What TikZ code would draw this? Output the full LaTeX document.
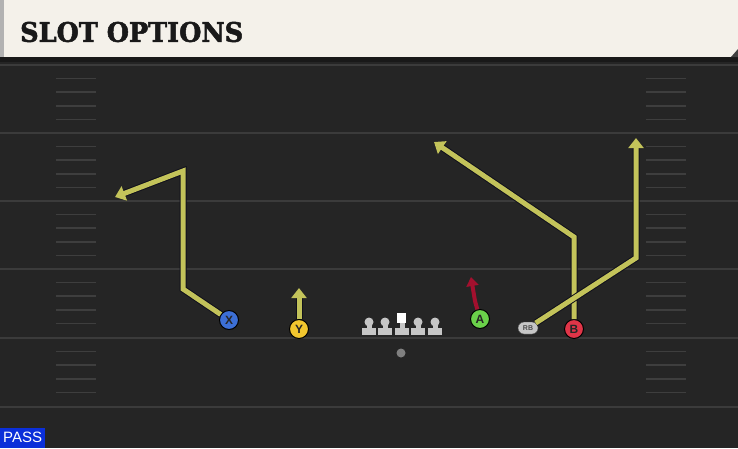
\documentclass[tikz,border=0pt]{standalone}
\usepackage{fontspec}
\usepackage{graphicx}
\setmainfont{Liberation Sans}
\newfontfamily\titlefont{DejaVu Serif}[BoldFeatures={FakeBold=2}]
\usetikzlibrary{arrows.meta,shapes.misc}

\definecolor{fieldbg}{HTML}{252525}
\definecolor{yardgray}{HTML}{3B3B3B}
\definecolor{hashgray}{HTML}{3E3E3E}
\definecolor{headcream}{HTML}{F4F1EA}
\definecolor{routeyellow}{HTML}{C3C35A}
\definecolor{routeedge}{HTML}{10101C}
\definecolor{hotred}{HTML}{A3102E}
\definecolor{xblue}{HTML}{3C6FD6}
\definecolor{yyellow}{HTML}{F2C62E}
\definecolor{agreen}{HTML}{6AD14A}
\definecolor{bred}{HTML}{E03548}
\definecolor{olgray}{HTML}{C6C6C6}
\definecolor{passblue}{HTML}{0B2FD9}

\tikzstyle{yardline} = [draw=yardgray, line width=2pt]
\tikzstyle{hash} = [draw=hashgray, line width=1.5pt]
\tikzstyle{route} = [draw=routeyellow, line width=5pt, -{Triangle[width=15pt,length=10pt]}, preaction={draw=routeedge, line width=7pt}]
\tikzstyle{hotroute} = [draw=hotred, line width=4pt, -{Triangle[width=12pt,length=9pt]}]
\tikzstyle{player} = [circle, draw=black, line width=1pt, minimum size=19pt, inner sep=0pt, text=black!85, font=\bfseries\fontsize{12}{12}\selectfont]
\tikzstyle{rbbox} = [rounded rectangle, draw=black!70, fill=olgray, minimum width=20pt, minimum height=12pt, inner sep=0pt, text=black!70, font=\bfseries\fontsize{7}{7}\selectfont]
\tikzstyle{ball} = [circle, fill=black!50, minimum size=9pt, inner sep=0pt]

\begin{document}
\begin{tikzpicture}[x=1pt, y=-1pt]
        \useasboundingbox (0,0) rectangle (738,448);
        % field
        \fill[fieldbg] (0,0) rectangle (738,448);
        \foreach \b in {65,133,201,269,338,407}
            \path[yardline] (0,\b) -- (738,\b);
        \foreach \b in {65,133,201,269,338}
            \foreach \k in {1,...,4} {
                \path[hash] (56,{\b+13.6*\k}) -- (96,{\b+13.6*\k});
                \path[hash] (646,{\b+13.6*\k}) -- (686,{\b+13.6*\k});
            }
        % header
        \fill[black!90] (0,57) rectangle (738,62);
        \fill[headcream] (0,0) rectangle (738,57);
        \fill[black!30] (0,0) rectangle (4,57);
        \fill[black!75] (731,57) -- (738,57) -- (738,49) -- cycle;
        \node[anchor=west, inner sep=0pt, text=black!90] (title) at (20,32)
            {\resizebox{223pt}{20pt}{\titlefont\bfseries SLOT OPTIONS}};
        % line
        \foreach \lx in {369,385,418,435} {
            \fill[olgray] (\lx-7,328) rectangle (\lx+7,335);
            \fill[olgray] (\lx-2.5,322) rectangle (\lx+2.5,329);
            \fill[olgray] (\lx,322) circle (4.5);
        }
        \fill[olgray] (395,328) rectangle (409,335);
        \fill[olgray] (399.5,322) rectangle (404.5,329);
        \fill[white] (397,313) rectangle (406,323);
        \node[ball] (ball) at (401,353) {};
        % players
        \node[player, fill=xblue] (x) at (229,320) {X};
        \node[player, fill=yyellow] (y) at (299,329) {Y};
        \node[player, fill=agreen] (a) at (480,319) {A};
        \node[player, fill=bred] (b) at (574,329) {B};
        \node[rbbox] (rb) at (528,328) {RB};
        % route points
        \coordinate (xcut) at (183,289);
        \coordinate (xtop) at (183,171);
        \coordinate (xend) at (115,197);
        \coordinate (yend) at (299,288);
        \coordinate (abend) at (475,301);
        \coordinate (aend) at (471,277);
        \coordinate (bcut) at (574,237);
        \coordinate (bend) at (434,142);
        \coordinate (rbcut) at (636,258);
        \coordinate (rbend) at (636,138);
        % routes
        \path[route] (x) -- (xcut) -- (xtop) -- (xend);
        \path[route] (y) -- (yend);
        \path[hotroute] (a) -- (abend) -- (aend);
        \path[route] (b) -- (bcut) -- (bend);
        \path[route] (rb) -- (rbcut) -- (rbend);
        % tag
        \node[anchor=south west, fill=passblue, text=white, minimum width=45pt, minimum height=20pt, inner sep=0pt, font=\fontsize{15}{15}\selectfont] (pass) at (0,448) {PASS};
    \end{tikzpicture}
\end{document}
